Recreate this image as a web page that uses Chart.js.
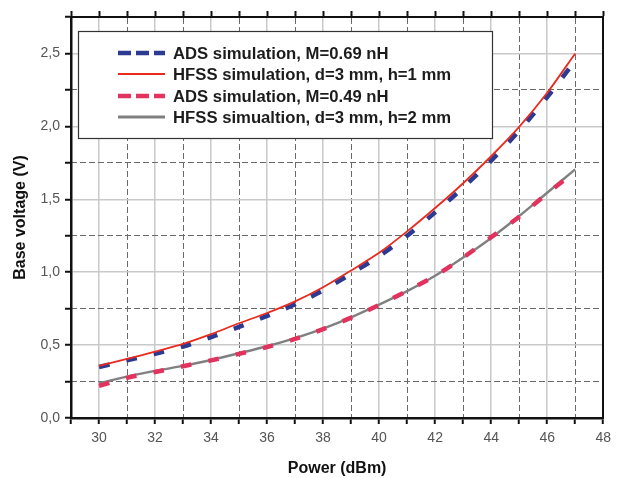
<!DOCTYPE html>
<html>
<head>
<meta charset="utf-8">
<script src="https://cdn.jsdelivr.net/npm/chart.js@4.4.1/dist/chart.umd.min.js"></script>
<style>
body{margin:0;background:#fff;}
#grafica{display:block;}
</style>
</head>
<body>
<canvas id="grafica" width="617" height="478"></canvas>
<script>
// datos
var potencia=[30,31,32,33,34,35,36,37,38,39,40,41,42,43,44,45,46,47];
var adsM069=[0.35,0.395,0.44,0.49,0.555,0.625,0.70,0.78,0.875,0.99,1.11,1.25,1.41,1.58,1.765,1.97,2.20,2.45];
var hfssH1=[0.357,0.405,0.455,0.508,0.575,0.65,0.72,0.80,0.897,1.012,1.133,1.28,1.44,1.61,1.795,1.996,2.23,2.5];
var adsM049=[0.22,0.275,0.315,0.355,0.395,0.44,0.487,0.542,0.61,0.688,0.775,0.872,0.975,1.10,1.24,1.38,1.54,1.69];
var hfssH2=[0.238,0.284,0.323,0.357,0.398,0.444,0.492,0.548,0.613,0.69,0.778,0.87,0.975,1.10,1.235,1.385,1.545,1.705];
var etiquetas=["ADS simulation, M=0.69 nH","HFSS simulation, d=3 mm, h=1 mm","ADS simulation, M=0.49 nH","HFSS simualtion, d=3 mm, h=2 mm"];
var xMin=29, xMax=48, yMin=0, yMax=2.75;

function puntos(valores){
	var arr=[];
	for(var i=0;i<potencia.length;i++){
		arr.push({x:potencia[i],y:valores[i]});
	}
	return arr;
}

var gris="#c9c9c9", grisOsc="#6a6a6a";
var fuente="'Liberation Sans', Arial, sans-serif";

function $each(arr,fn){ for(var i=0;i<arr.length;i++){ fn(i,arr[i]); } }

// leyenda con recuadro, como en Origin
var leyendaCaja={
	id:"leyendaCaja",
	afterDatasetsDraw:function(chart){
		var ctx=chart.ctx;
		var filas=[53,74,96,117];
		var muestra=[[13,5],[],[13,5],[]];
		var grosor=[4.5,1.8,4.5,3];
		ctx.save();
		ctx.fillStyle="#fff";
		ctx.fillRect(78,31,414,107);
		ctx.strokeStyle="#333";
		ctx.lineWidth=1.2;
		ctx.strokeRect(78.5,31.5,414,107);
		$each(chart.data.datasets,function(i,ds){
			ctx.beginPath();
			ctx.setLineDash(muestra[i]);
			ctx.strokeStyle=ds.borderColor;
			ctx.lineWidth=grosor[i];
			ctx.moveTo(118,filas[i]);
			ctx.lineTo(165,filas[i]);
			ctx.stroke();
			ctx.setLineDash([]);
			ctx.fillStyle="#1c1c1c";
			ctx.font="bold 16.7px "+fuente;
			ctx.textBaseline="middle";
			ctx.fillText(ds.label,173,filas[i]+1);
		});
		ctx.restore();
	}
};

var esPar=function(v){ return Math.round(v)%2===0; };
var esMedio=function(v){ return Math.round(v*4)%2===0; };

new Chart(document.getElementById("grafica"),{
	type:"line",
	data:{
		datasets:[
			{label:etiquetas[0],data:puntos(adsM069),borderColor:"#2c3a92",borderWidth:4.5,borderDash:[11,17],order:2},
			{label:etiquetas[1],data:puntos(hfssH1),borderColor:"#ea2a1d",borderWidth:1.8,order:1},
			{label:etiquetas[2],data:puntos(adsM049),borderColor:"#e2335f",borderWidth:4.5,borderDash:[11,17],order:3},
			{label:etiquetas[3],data:puntos(hfssH2),borderColor:"#808080",borderWidth:2.4,order:4}
		]
	},
	options:{
		responsive:false,
		devicePixelRatio:1,
		animation:false,
		layout:{padding:{left:0,right:7,top:11,bottom:0}},
		elements:{point:{radius:0},line:{tension:0.3,fill:false,borderCapStyle:"butt"}},
		plugins:{legend:{display:false},tooltip:{enabled:false}},
		scales:{
			x:{
				type:"linear",position:"bottom",min:xMin,max:xMax,
				afterFit:function(s){ s.height=60; },
				ticks:{stepSize:1,autoSkip:false,maxRotation:0,padding:6,color:"#555",font:{family:fuente,size:14},
					callback:function(v){ return esPar(v)?String(v):""; }},
				grid:{tickLength:6,tickWidth:2,tickColor:"#111",lineWidth:1.5,
					color:function(c){ var v=c.tick?c.tick.value:0; return (esPar(v)&&v!==xMax)?gris:"rgba(0,0,0,0)"; }},
				border:{color:"#111",width:2.5},
				title:{display:true,text:"Power (dBm)",color:"#111",font:{family:fuente,size:16,weight:"bold"},padding:{top:4,bottom:0}}
			},
			xArriba:{
				type:"linear",position:"top",min:xMin,max:xMax,
				ticks:{stepSize:1,autoSkip:false,display:false},
				grid:{tickLength:6,tickWidth:2,tickColor:"#111",lineWidth:1,
					color:function(c){ var v=c.tick?c.tick.value:0; return (!esPar(v)&&v!==xMin)?grisOsc:"rgba(0,0,0,0)"; }},
				border:{color:"#111",width:2,dash:[6,3]}
			},
			y:{
				type:"linear",position:"left",min:yMin,max:yMax,
				afterFit:function(s){ s.width=71; },
				ticks:{stepSize:0.25,autoSkip:false,padding:5,color:"#555",font:{family:fuente,size:14},
					callback:function(v){ return esMedio(v)?v.toFixed(1).replace(".",","):""; }},
				grid:{tickLength:6,tickWidth:2,tickColor:"#111",lineWidth:1.5,
					color:function(c){ var v=c.tick?c.tick.value:0; return (esMedio(v)&&v!==yMin)?gris:"rgba(0,0,0,0)"; }},
				border:{color:"#111",width:2.5},
				title:{display:true,text:"Base voltage (V)",color:"#111",font:{family:fuente,size:16,weight:"bold"},padding:{top:11,bottom:0}}
			},
			yDerecha:{
				type:"linear",position:"right",min:yMin,max:yMax,
				ticks:{stepSize:0.25,autoSkip:false,display:false},
				grid:{drawTicks:false,lineWidth:1,
					color:function(c){ var v=c.tick?c.tick.value:0; return (!esMedio(v)&&v!==yMax)?grisOsc:"rgba(0,0,0,0)"; }},
				border:{color:"#111",width:2,dash:[6,3]}
			}
		}
	},
	plugins:[leyendaCaja]
});
</script>
</body>
</html>
